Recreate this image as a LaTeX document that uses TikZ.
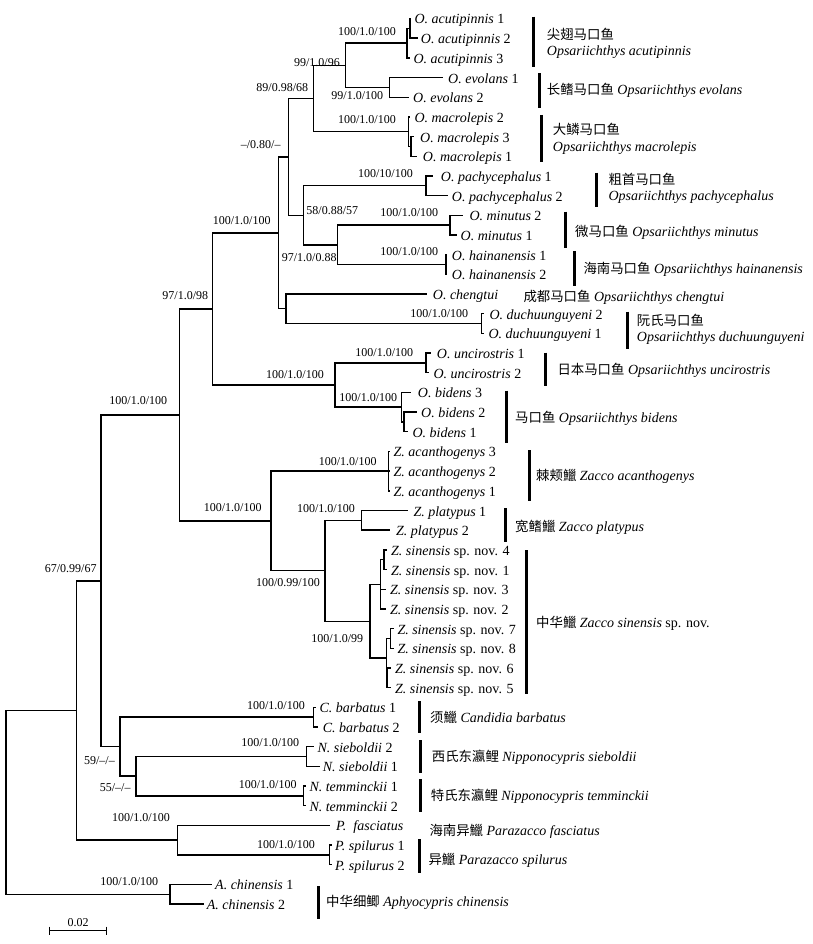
\documentclass[tikz,border=0pt]{standalone}
\usepackage{fontspec}
\setmainfont{Liberation Serif}
\newfontfamily\cjk{Noto Sans CJK SC}
\newcommand\zh[1]{{\fontsize{13.4}{16}\selectfont\cjk #1}}
\begin{document}
\begin{tikzpicture}[x=1pt,y=-1pt,
  br/.style={line width=1.4pt},
  sbar/.style={line width=3pt},
  sup/.style={font=\fontsize{12}{14}\selectfont, inner sep=0pt, anchor=base east},
  leaf/.style={font=\fontsize{14}{16}\selectfont, inner sep=0pt, anchor=base west},
  spc/.style={font=\fontsize{14}{16}\selectfont, inner sep=0pt, anchor=base west}]
\useasboundingbox[fill=white] (0,0) rectangle (812,944);
% ---------- tips ----------
\coordinate (t0) at (411,18.50);
\coordinate (t1) at (418,38.18);
\coordinate (t2) at (410,57.86);
\coordinate (t3) at (443.3,77.54);
\coordinate (t4) at (409.3,97.22);
\coordinate (t5) at (410,116.90);
\coordinate (t6) at (414,136.58);
\coordinate (t7) at (417,156.26);
\coordinate (t8) at (433.3,175.94);
\coordinate (t9) at (448.3,195.62);
\coordinate (t10) at (463.3,215.30);
\coordinate (t11) at (457,234.98);
\coordinate (t12) at (447,254.66);
\coordinate (t13) at (447,274.34);
\coordinate (t14) at (426.7,294.02);
\coordinate (t15) at (484,313.70);
\coordinate (t16) at (484,333.38);
\coordinate (t17) at (430.7,353.06);
\coordinate (t18) at (429,372.74);
\coordinate (t19) at (411,392.42);
\coordinate (t20) at (416.7,412.10);
\coordinate (t21) at (408.3,431.78);
\coordinate (t22) at (390,451.46);
\coordinate (t23) at (390,471.14);
\coordinate (t24) at (390,490.82);
\coordinate (t25) at (408.3,510.50);
\coordinate (t26) at (390,530.18);
\coordinate (t27) at (387,549.86);
\coordinate (t28) at (387,569.54);
\coordinate (t29) at (386,589.22);
\coordinate (t30) at (386,608.90);
\coordinate (t31) at (394,628.58);
\coordinate (t32) at (394,648.26);
\coordinate (t33) at (391,667.94);
\coordinate (t34) at (391,687.62);
\coordinate (t35) at (316,707.30);
\coordinate (t36) at (318.3,726.98);
\coordinate (t37) at (314,746.66);
\coordinate (t38) at (320,766.34);
\coordinate (t39) at (306,786.02);
\coordinate (t40) at (306,805.70);
\coordinate (t41) at (330,825.38);
\coordinate (t42) at (332,845.06);
\coordinate (t43) at (332,864.74);
\coordinate (t44) at (212,884.42);
\coordinate (t45) at (203.5,904.10);
% ---------- internal nodes ----------
\coordinate (acu12) at (410,28.34);
\coordinate (acu) at (407,43.10);
\coordinate (evo) at (389.3,87.38);
\coordinate (n99) at (345.7,65.24);
\coordinate (mac31) at (411,146.42);
\coordinate (mac) at (408.3,131.66);
\coordinate (n89) at (313.3,98.45);
\coordinate (pac) at (426,185.78);
\coordinate (min) at (450,225.14);
\coordinate (hai) at (446,264.50);
\coordinate (n97b) at (337.7,244.82);
\coordinate (n58) at (303.3,215.30);
\coordinate (n080) at (288.3,156.88);
\coordinate (duc) at (481.7,323.54);
\coordinate (ncd) at (286,308.78);
\coordinate (n100a) at (278.3,232.83);
\coordinate (unc) at (426,362.90);
\coordinate (bid21) at (404,421.94);
\coordinate (bid) at (401.7,407.18);
\coordinate (nub) at (335,385.04);
\coordinate (n97) at (212.7,308.94);
\coordinate (aca) at (388.3,471.14);
\coordinate (pla) at (361.7,520.34);
\coordinate (s41) at (384,559.70);
\coordinate (sa) at (380.7,584.30);
\coordinate (s78) at (390.7,638.42);
\coordinate (s65) at (387,677.78);
\coordinate (sb) at (386.7,658.10);
\coordinate (sin) at (370,621.20);
\coordinate (n10099) at (325,570.77);
\coordinate (zac) at (271,520.96);
\coordinate (n179) at (179.3,414.95);
\coordinate (bar) at (313.3,717.14);
\coordinate (sie) at (306.7,756.50);
\coordinate (tem) at (303.3,795.86);
\coordinate (n55) at (136,776.18);
\coordinate (n59) at (120,746.66);
\coordinate (n67) at (101,580.81);
\coordinate (spi) at (329.3,854.90);
\coordinate (par) at (177.3,840.14);
\coordinate (n77) at (76.7,710.48);
\coordinate (chi) at (170,894.26);
\coordinate (root) at (6,802.37);
% ---------- branches ----------
\draw[br] (acu12) |- (t0);
\draw[br] (acu12) |- (t1);
\draw[br] (acu) |- (acu12);
\draw[br] (acu) |- (t2);
\draw[br] (evo) |- (t3);
\draw[br] (evo) |- (t4);
\draw[br] (n99) |- (acu);
\draw[br] (n99) |- (evo);
\draw[br] (mac) |- (t5);
\draw[br] (mac31) |- (t6);
\draw[br] (mac31) |- (t7);
\draw[br] (mac) |- (mac31);
\draw[br] (n89) |- (n99);
\draw[br] (n89) |- (mac);
\draw[br] (pac) |- (t8);
\draw[br] (pac) |- (t9);
\draw[br] (min) |- (t10);
\draw[br] (min) |- (t11);
\draw[br] (hai) |- (t12);
\draw[br] (hai) |- (t13);
\draw[br] (n97b) |- (min);
\draw[br] (n97b) |- (hai);
\draw[br] (n58) |- (pac);
\draw[br] (n58) |- (n97b);
\draw[br] (n080) |- (n89);
\draw[br] (n080) |- (n58);
\draw[br] (duc) |- (t15);
\draw[br] (duc) |- (t16);
\draw[br] (ncd) |- (t14);
\draw[br] (ncd) |- (duc);
\draw[br] (n100a) |- (n080);
\draw[br] (n100a) |- (ncd);
\draw[br] (unc) |- (t17);
\draw[br] (unc) |- (t18);
\draw[br] (bid) |- (t19);
\draw[br] (bid21) |- (t20);
\draw[br] (bid21) |- (t21);
\draw[br] (bid) |- (bid21);
\draw[br] (nub) |- (unc);
\draw[br] (nub) |- (bid);
\draw[br] (n97) |- (n100a);
\draw[br] (n97) |- (nub);
\draw[br] (aca) |- (t22);
\draw[br] (aca) |- (t23);
\draw[br] (aca) |- (t24);
\draw[br] (pla) |- (t25);
\draw[br] (pla) |- (t26);
\draw[br] (s41) |- (t27);
\draw[br] (s41) |- (t28);
\draw[br] (sa) |- (s41);
\draw[br] (sa) |- (t29);
\draw[br] (sa) |- (t30);
\draw[br] (s78) |- (t31);
\draw[br] (s78) |- (t32);
\draw[br] (s65) |- (t33);
\draw[br] (s65) |- (t34);
\draw[br] (sb) |- (s78);
\draw[br] (sb) |- (s65);
\draw[br] (sin) |- (sa);
\draw[br] (sin) |- (sb);
\draw[br] (n10099) |- (pla);
\draw[br] (n10099) |- (sin);
\draw[br] (zac) |- (aca);
\draw[br] (zac) |- (n10099);
\draw[br] (n179) |- (n97);
\draw[br] (n179) |- (zac);
\draw[br] (bar) |- (t35);
\draw[br] (bar) |- (t36);
\draw[br] (sie) |- (t37);
\draw[br] (sie) |- (t38);
\draw[br] (tem) |- (t39);
\draw[br] (tem) |- (t40);
\draw[br] (n55) |- (sie);
\draw[br] (n55) |- (tem);
\draw[br] (n59) |- (bar);
\draw[br] (n59) |- (n55);
\draw[br] (n67) |- (n179);
\draw[br] (n67) |- (n59);
\draw[br] (spi) |- (t42);
\draw[br] (spi) |- (t43);
\draw[br] (par) |- (t41);
\draw[br] (par) |- (spi);
\draw[br] (n77) |- (n67);
\draw[br] (n77) |- (par);
\draw[br] (chi) |- (t44);
\draw[br] (chi) |- (t45);
\draw[br] (root) |- (n77);
\draw[br] (root) |- (chi);
% ---------- leaf labels ----------
\node[leaf] (L0) at (414.3,24.00) {\textit{O. acutipinnis} 1};
\node[leaf] (L1) at (420.7,43.68) {\textit{O. acutipinnis} 2};
\node[leaf] (L2) at (413.3,63.36) {\textit{O. acutipinnis} 3};
\node[leaf] (L3) at (448,83.04) {\textit{O. evolans} 1};
\node[leaf] (L4) at (413,102.72) {\textit{O. evolans} 2};
\node[leaf] (L5) at (414.3,122.40) {\textit{O. macrolepis} 2};
\node[leaf] (L6) at (420,142.08) {\textit{O. macrolepis} 3};
\node[leaf] (L7) at (422.7,161.76) {\textit{O. macrolepis} 1};
\node[leaf] (L8) at (440.7,181.44) {\textit{O. pachycephalus} 1};
\node[leaf] (L9) at (451.7,201.12) {\textit{O. pachycephalus} 2};
\node[leaf] (L10) at (469.3,220.80) {\textit{O. minutus} 2};
\node[leaf] (L11) at (460.5,240.48) {\textit{O. minutus} 1};
\node[leaf] (L12) at (451.7,260.16) {\textit{O. hainanensis} 1};
\node[leaf] (L13) at (451.7,279.84) {\textit{O. hainanensis} 2};
\node[leaf] (L14) at (432.7,299.52) {\textit{O. chengtui}};
\node[leaf] (L15) at (489.3,319.20) {\textit{O. duchuunguyeni} 2};
\node[leaf] (L16) at (488.3,338.88) {\textit{O. duchuunguyeni} 1};
\node[leaf] (L17) at (436.7,358.56) {\textit{O. uncirostris} 1};
\node[leaf] (L18) at (433.3,378.24) {\textit{O. uncirostris} 2};
\node[leaf] (L19) at (417.7,397.92) {\textit{O. bidens} 3};
\node[leaf] (L20) at (421,417.60) {\textit{O. bidens} 2};
\node[leaf] (L21) at (412.3,437.28) {\textit{O. bidens} 1};
\node[leaf] (L22) at (393.3,456.96) {\textit{Z. acanthogenys} 3};
\node[leaf] (L23) at (393.3,476.64) {\textit{Z. acanthogenys} 2};
\node[leaf] (L24) at (393.3,496.32) {\textit{Z. acanthogenys} 1};
\node[leaf] (L25) at (413.3,516.00) {\textit{Z. platypus} 1};
\node[leaf] (L26) at (396,535.68) {\textit{Z. platypus} 2};
\node[leaf] (L27) at (391,555.36) {\textit{Z. sinensis} sp. nov. 4};
\node[leaf] (L28) at (391,575.04) {\textit{Z. sinensis} sp. nov. 1};
\node[leaf] (L29) at (390,594.72) {\textit{Z. sinensis} sp. nov. 3};
\node[leaf] (L30) at (390,614.40) {\textit{Z. sinensis} sp. nov. 2};
\node[leaf] (L31) at (397.3,634.08) {\textit{Z. sinensis} sp. nov. 7};
\node[leaf] (L32) at (397.3,653.76) {\textit{Z. sinensis} sp. nov. 8};
\node[leaf] (L33) at (395,673.44) {\textit{Z. sinensis} sp. nov. 6};
\node[leaf] (L34) at (395,693.12) {\textit{Z. sinensis} sp. nov. 5};
\node[leaf] (L35) at (319.3,712.80) {\textit{C. barbatus} 1};
\node[leaf] (L36) at (322.7,732.48) {\textit{C. barbatus} 2};
\node[leaf] (L37) at (317.3,752.16) {\textit{N. sieboldii} 2};
\node[leaf] (L38) at (322.7,771.84) {\textit{N. sieboldii} 1};
\node[leaf] (L39) at (309.3,791.52) {\textit{N. temminckii} 1};
\node[leaf] (L40) at (309.3,811.20) {\textit{N. temminckii} 2};
\node[leaf] (L41) at (336,830.88) {\textit{P.\ \ fasciatus}};
\node[leaf] (L42) at (335,850.56) {\textit{P. spilurus} 1};
\node[leaf] (L43) at (335,870.24) {\textit{P. spilurus} 2};
\node[leaf] (L44) at (215,889.92) {\textit{A. chinensis} 1};
\node[leaf] (L45) at (206.7,909.60) {\textit{A. chinensis} 2};
% ---------- support values ----------
\node[sup] (s1) at (396,35.7) {100/1.0/100};
\node[sup] (s2) at (340,66.8) {99/1.0/96};
\node[sup] (s3) at (383.3,99.7) {99/1.0/100};
\node[sup] (s4) at (308.3,91.3) {89/0.98/68};
\node[sup] (s5) at (396,124) {100/1.0/100};
\node[sup] (s6) at (280.7,149) {–/0.80/–};
\node[sup] (s7) at (413,177.3) {100/10/100};
\node[sup] (s8) at (358.3,214) {58/0.88/57};
\node[sup] (s9) at (438.3,216.7) {100/1.0/100};
\node[sup] (s10) at (438.3,255) {100/1.0/100};
\node[sup] (s11) at (336.7,261.7) {97/1.0/0.88};
\node[sup] (s12) at (270.7,224) {100/1.0/100};
\node[sup] (s13) at (468.3,317.7) {100/1.0/100};
\node[sup] (s14) at (208.3,299) {97/1.0/98};
\node[sup] (s15) at (413.3,356.7) {100/1.0/100};
\node[sup] (s16) at (324,378) {100/1.0/100};
\node[sup] (s17) at (397.3,401.7) {100/1.0/100};
\node[sup] (s18) at (167.3,404) {100/1.0/100};
\node[sup] (s19) at (376.7,465.7) {100/1.0/100};
\node[sup] (s20) at (261.7,511.3) {100/1.0/100};
\node[sup] (s21) at (355,512.3) {100/1.0/100};
\node[sup] (s22) at (320,586) {100/0.99/100};
\node[sup] (s23) at (363.3,642.3) {100/1.0/99};
\node[sup] (s24) at (96.7,572.3) {67/0.99/67};
\node[sup] (s25) at (305,709) {100/1.0/100};
\node[sup] (s26) at (299.3,746.7) {100/1.0/100};
\node[sup] (s27) at (296.7,788) {100/1.0/100};
\node[sup] (s28) at (115,764) {59/–/–};
\node[sup] (s29) at (130.7,791.7) {55/–/–};
\node[sup] (s30) at (170,821.3) {100/1.0/100};
\node[sup] (s31) at (315,848.3) {100/1.0/100};
\node[sup] (s32) at (158.3,885) {100/1.0/100};
% ---------- species bars ----------
\draw[sbar] (533.3,16.7) -- (533.3,66.7);
\draw[sbar] (539.3,73.3) -- (539.3,108.3);
\draw[sbar] (541,115) -- (541,162);
\draw[sbar] (596.7,172.7) -- (596.7,207.3);
\draw[sbar] (565.7,211.7) -- (565.7,248.3);
\draw[sbar] (574,251) -- (574,286);
\draw[sbar] (627.7,311.7) -- (627.7,349.3);
\draw[sbar] (545.7,352.7) -- (545.7,386);
\draw[sbar] (506,390.7) -- (506,442.7);
\draw[sbar] (529.3,450) -- (529.3,500.7);
\draw[sbar] (505.7,508.3) -- (505.7,541.7);
\draw[sbar] (526,550) -- (526,694.3);
\draw[sbar] (419.3,701) -- (419.3,733.3);
\draw[sbar] (420,740) -- (420,772.7);
\draw[sbar] (420,779.3) -- (420,812.3);
\draw[sbar] (419.3,839.3) -- (419.3,872.7);
\draw[sbar] (318.3,886) -- (318.3,919.3);
% ---------- species names ----------
\node[spc] (c1a) at (546.7,39.3) {\zh{尖翅马口鱼}};
\node[spc] (c1b) at (546.7,55.5) {\textit{Opsariichthys acutipinnis}};
\node[spc] (c2) at (546.7,95) {\zh{长鳍马口鱼} \textit{Opsariichthys evolans}};
\node[spc] (c3a) at (552.7,135) {\zh{大鳞马口鱼}};
\node[spc] (c3b) at (552.7,151.2) {\textit{Opsariichthys macrolepis}};
\node[spc] (c4a) at (608.3,184.3) {\zh{粗首马口鱼}};
\node[spc] (c4b) at (608.3,200.2) {\textit{Opsariichthys pachycephalus}};
\node[spc] (c5) at (575,236) {\zh{微马口鱼} \textit{Opsariichthys minutus}};
\node[spc] (c6) at (583.3,273.3) {\zh{海南马口鱼} \textit{Opsariichthys hainanensis}};
\node[spc] (c7) at (523.3,301.7) {\zh{成都马口鱼} \textit{Opsariichthys chengtui}};
\node[spc] (c8a) at (636.7,325.7) {\zh{阮氏马口鱼}};
\node[spc] (c8b) at (636.7,341.2) {\textit{Opsariichthys duchuunguyeni}};
\node[spc] (c9) at (557.3,374.3) {\zh{日本马口鱼} \textit{Opsariichthys uncirostris}};
\node[spc] (c10) at (515,422.3) {\zh{马口鱼} \textit{Opsariichthys bidens}};
\node[spc] (c11) at (536,480.7) {\zh{棘颊鱲} \textit{Zacco acanthogenys}};
\node[spc] (c12) at (515,531.7) {\zh{宽鳍鱲} \textit{Zacco platypus}};
\node[spc] (c13) at (536,627.3) {\zh{中华鱲} \textit{Zacco sinensis} sp. nov.};
\node[spc] (c14) at (430,722.7) {\zh{须鱲} \textit{Candidia barbatus}};
\node[spc] (c15) at (431.7,761) {\zh{西氏东瀛鲤} \textit{Nipponocypris sieboldii}};
\node[spc] (c16) at (430.7,800.7) {\zh{特氏东瀛鲤} \textit{Nipponocypris temminckii}};
\node[spc] (c17) at (429.3,835) {\zh{海南异鱲} \textit{Parazacco fasciatus}};
\node[spc] (c18) at (428.3,864.3) {\zh{异鱲} \textit{Parazacco spilurus}};
\node[spc] (c19) at (326,906) {\zh{中华细鲫} \textit{Aphyocypris chinensis}};
% ---------- scale bar ----------
\coordinate (sc1) at (49.3,930.7);
\coordinate (sc2) at (106.7,930.7);
\draw[br] (sc1) -- (sc2);
\draw[br] ([yshift=4.2pt]sc1) -- ([yshift=-4.2pt]sc1);
\draw[br] ([yshift=4.2pt]sc2) -- ([yshift=-4.2pt]sc2);
\node[font=\fontsize{12}{14}\selectfont, inner sep=0pt, anchor=base] (sclab) at (78,926.3) {0.02};
\end{tikzpicture}
\end{document}
